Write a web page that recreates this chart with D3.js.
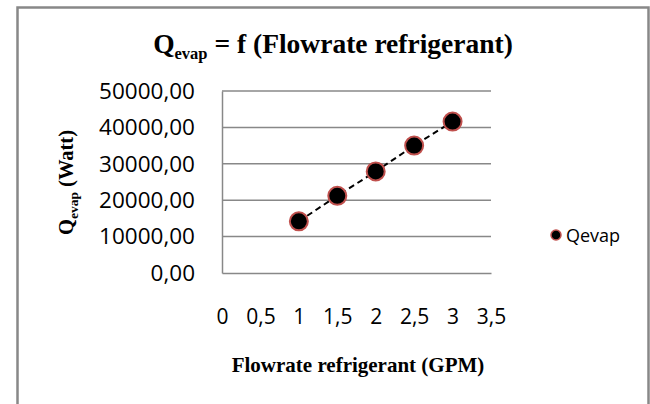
<!DOCTYPE html>
<html><head><meta charset="utf-8">
<script src="https://cdn.jsdelivr.net/npm/d3@7"></script>
<style>body{margin:0;background:#fff}svg{display:block}</style>
</head><body>
<svg id="c" width="650" height="404"></svg>
<script>
const flowrate = [1, 1.5, 2, 2.5, 3];
const qevap = [14200, 21200, 27900, 35000, 41600];
const yTicks = [0, 10000, 20000, 30000, 40000, 50000];
const xTicks = [0, 0.5, 1, 1.5, 2, 2.5, 3, 3.5];
const seriesName = "Qevap";

const svg = d3.select("#c");
svg.append("rect").attr("x", 17.5).attr("y", 7.5).attr("width", 631).attr("height", 420)
  .attr("fill", "#fff").attr("stroke", "#888").attr("stroke-width", 2.5);

const L = 222, R = 491, T = 91, B = 273;
const x = d3.scaleLinear().domain([0, 3.5]).range([L, R]);
const y = d3.scaleLinear().domain([0, 50000]).range([B, T]);
const fmtY = d => d3.format(".2f")(d).replace(".", ",");
const fmtX = d => String(d).replace(".", ",");

// gridlines
svg.append("g").selectAll("line").data(yTicks.filter(d => d > 0)).join("line")
  .attr("x1", L).attr("x2", R).attr("y1", d => y(d)).attr("y2", d => y(d))
  .attr("stroke", "#888").attr("stroke-width", 1.5);

// axes
const yAxis = svg.append("g").attr("transform", `translate(${L},0)`)
  .call(d3.axisLeft(y).tickValues(yTicks).tickSize(0).tickPadding(27).tickFormat(fmtY));
yAxis.select(".domain").attr("stroke", "#888").attr("stroke-width", 1.5);
yAxis.selectAll("text").attr("font-family", "Open Sans").attr("font-size", 22.5).attr("fill", "#000");

const xAxis = svg.append("g").attr("transform", `translate(0,${B})`)
  .call(d3.axisBottom(x).tickValues(xTicks).tickSize(0).tickPadding(51).tickFormat(fmtX));
xAxis.select(".domain").attr("stroke", "#888").attr("stroke-width", 1.5);
xAxis.selectAll("text").attr("font-family", "Open Sans").attr("font-size", 21).attr("fill", "#000")
  .attr("dy", "0");

// line
const pts = flowrate.map((f, i) => [f, qevap[i]]);
svg.append("path").datum(pts)
  .attr("fill", "none").attr("stroke", "#000").attr("stroke-width", 2).attr("stroke-dasharray", "6,4")
  .attr("d", d3.line().x(d => x(d[0])).y(d => y(d[1])));

svg.append("g").selectAll("circle").data(pts).join("circle")
  .attr("cx", d => x(d[0])).attr("cy", d => y(d[1])).attr("r", 9)
  .attr("fill", "#000").attr("stroke", "#c0504d").attr("stroke-width", 2);

// title
const title = svg.append("text").attr("x", 333).attr("y", 53).attr("text-anchor", "middle")
  .attr("font-family", "Liberation Serif").attr("font-weight", "bold").attr("font-size", 27.5);
title.append("tspan").text("Q");
title.append("tspan").attr("font-size", 16.5).attr("dy", 6).text("evap");
title.append("tspan").attr("dy", -6).text(" = f (Flowrate refrigerant)");

// y title
const yt = svg.append("text").attr("transform", "translate(73,182.5) rotate(-90)").attr("text-anchor", "middle")
  .attr("font-family", "Liberation Serif").attr("font-weight", "bold").attr("font-size", 20.5);
yt.append("tspan").text("Q");
yt.append("tspan").attr("font-size", 13.5).attr("dy", 5).text("evap");
yt.append("tspan").attr("dy", -5).text(" (Watt)");

// x title
svg.append("text").attr("x", 358).attr("y", 372).attr("text-anchor", "middle")
  .attr("font-family", "Liberation Serif").attr("font-weight", "bold").attr("font-size", 21)
  .text("Flowrate refrigerant (GPM)");

// legend
svg.append("circle").attr("cx", 556).attr("cy", 235).attr("r", 5)
  .attr("fill", "#000").attr("stroke", "#c0504d").attr("stroke-width", 1.5);
svg.append("text").attr("x", 566).attr("y", 242).attr("font-family", "Open Sans").attr("font-size", 18)
  .text(seriesName);
</script>
</body></html>
